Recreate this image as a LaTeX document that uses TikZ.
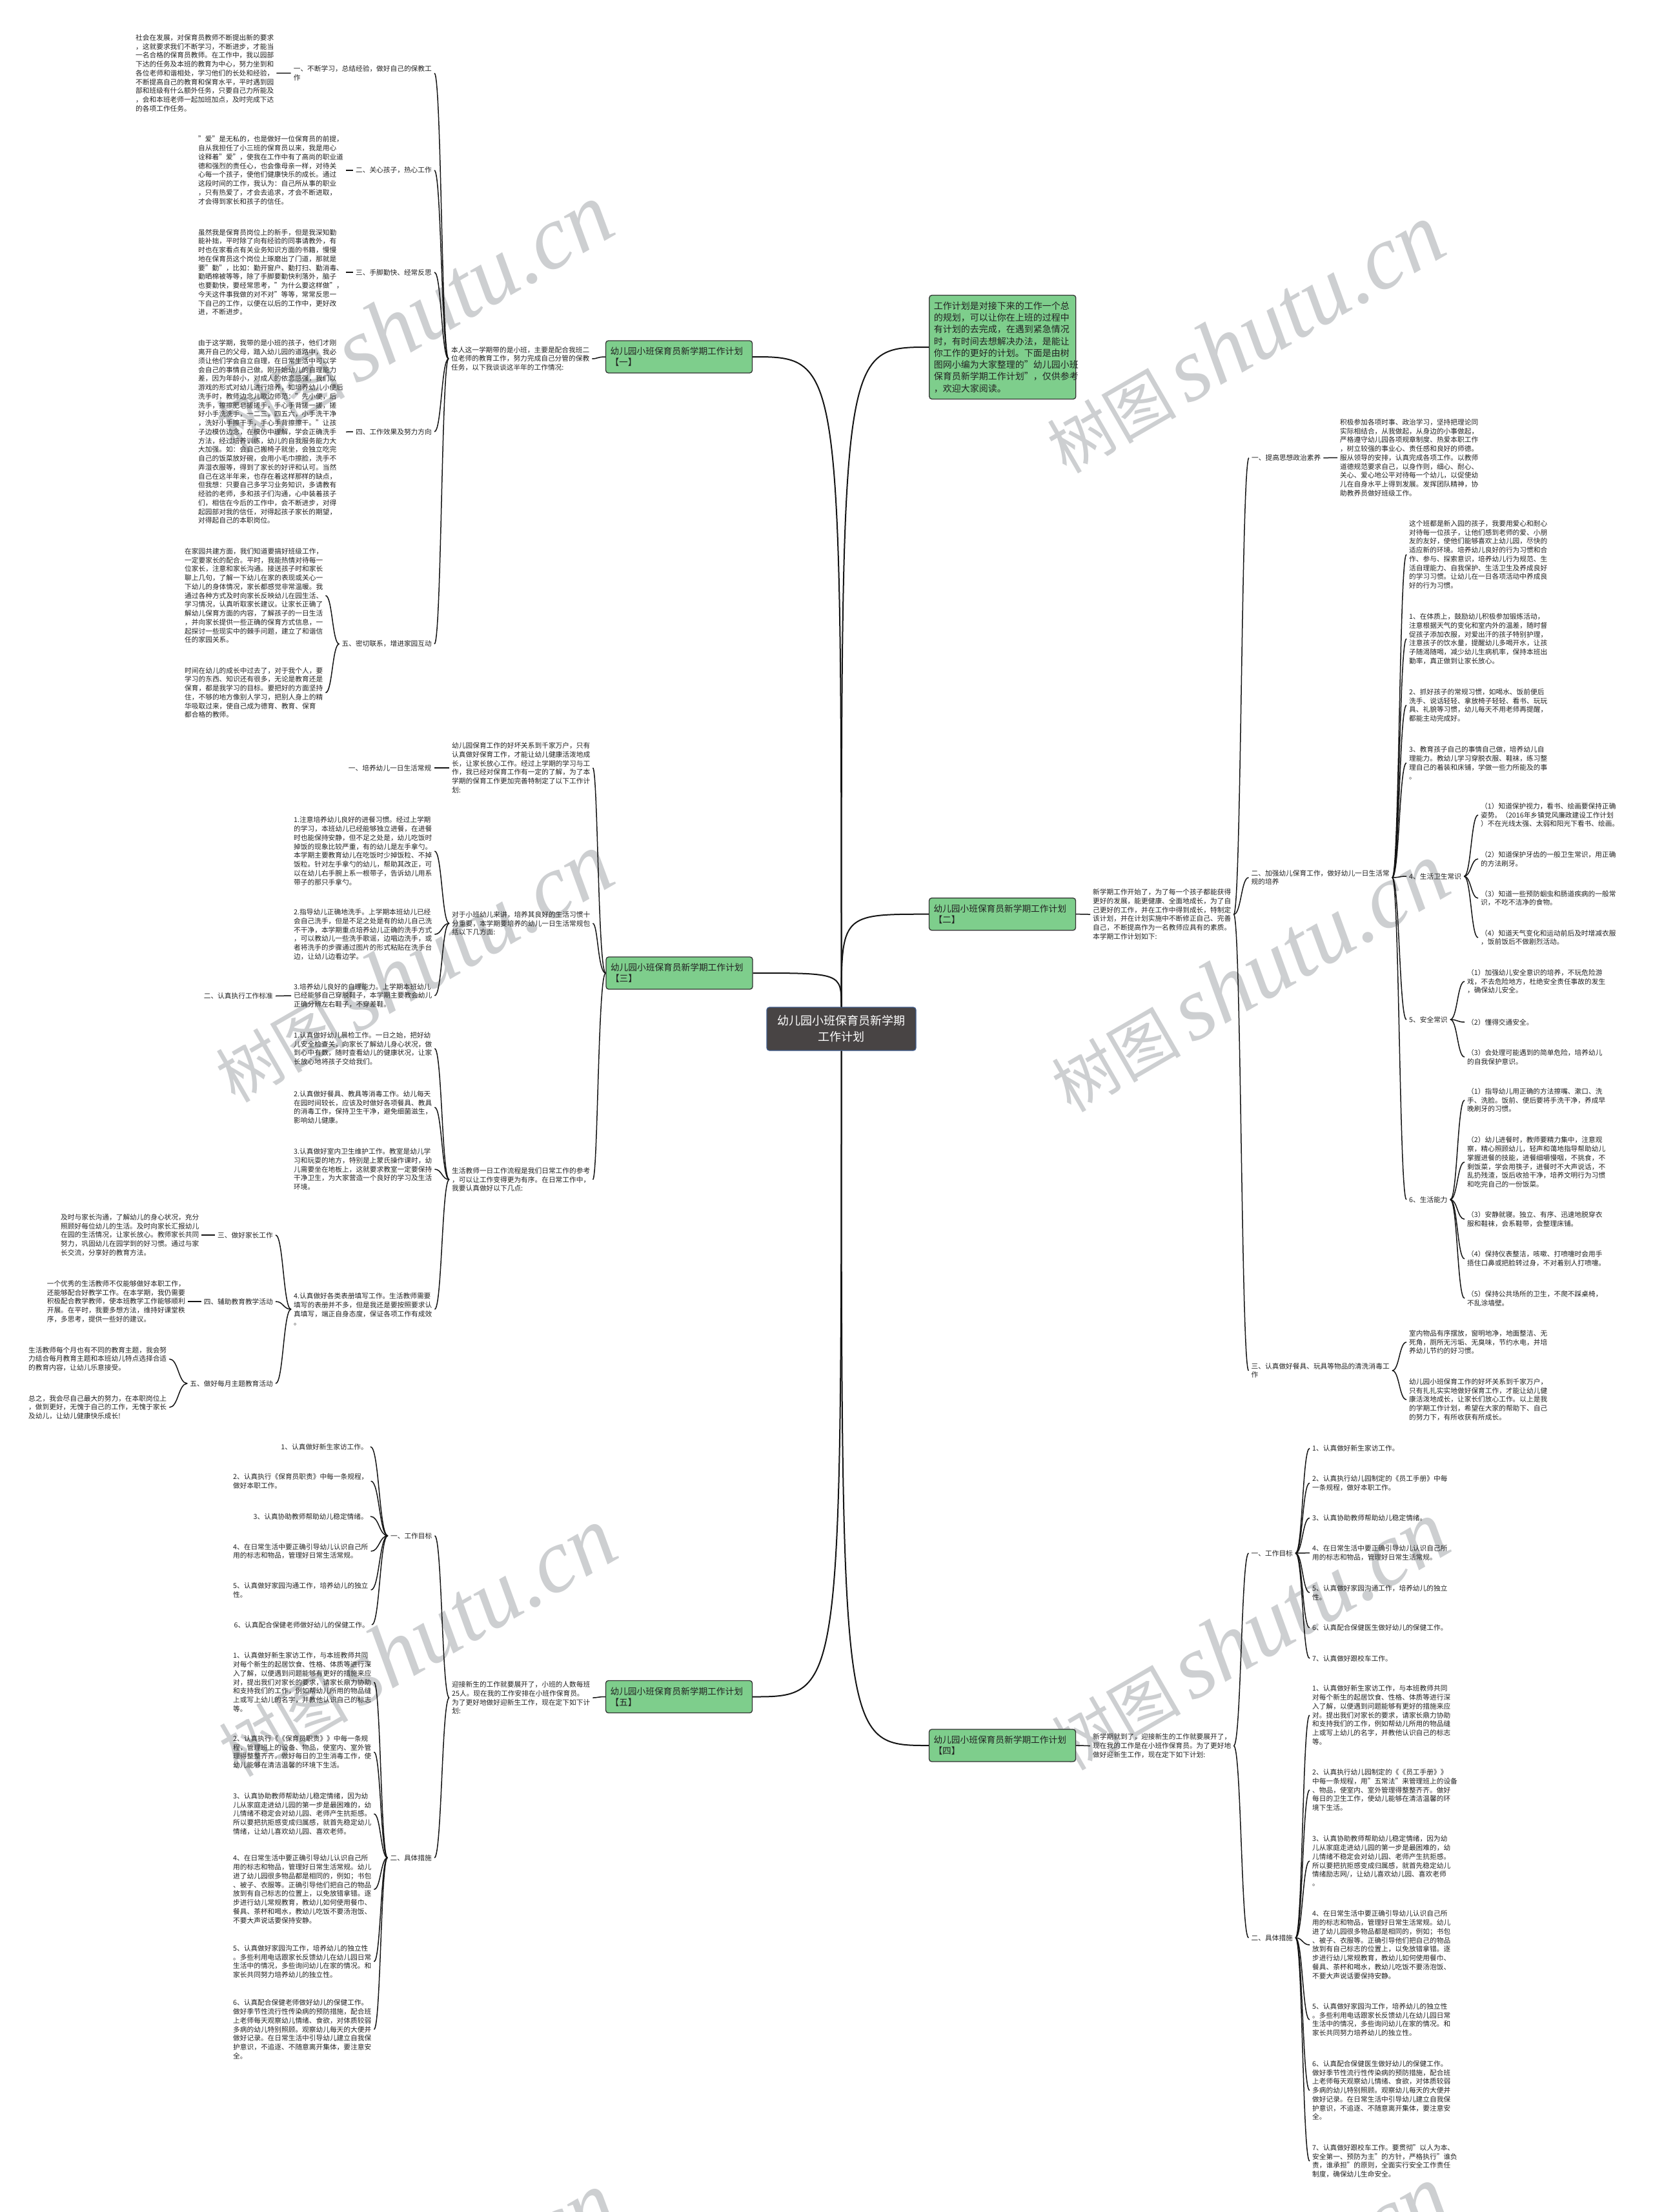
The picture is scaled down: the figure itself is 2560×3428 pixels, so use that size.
\documentclass[tikz,border=0pt]{standalone}
\usepackage{fontspec}
\setmainfont{Noto Sans CJK SC}
\newfontfamily\wmlatin{Liberation Serif}
\usetikzlibrary{calc}
\definecolor{nodegreen}{RGB}{126,206,140}
\definecolor{centerfill}{RGB}{72,68,68}
\definecolor{centerborder}{RGB}{60,90,140}
\definecolor{wmgray}{RGB}{205,207,209}
\definecolor{txtcol}{RGB}{34,34,34}
\definecolor{linecol}{RGB}{20,20,20}
\newcommand\mmlink[3][]{\draw[conn,#1] let \p1=(#2), \p2=(#3) in (\p1) .. controls ({0.5*\x1+0.5*\x2},\y1) and ({0.5*\x1+0.5*\x2},\y2) .. (\p2);}
\begin{document}
\begin{tikzpicture}[x=1pt,y=-1pt,
  txt/.style={font=\fontsize{10.7}{13.75}\selectfont, align=left, inner sep=0pt, text=txtcol},
  bnode/.style={draw=black!80, line width=1.3pt, fill=nodegreen, rounded corners=4pt, minimum width=227pt, minimum height=50pt, text width=213pt, inner xsep=7pt, inner ysep=4pt, align=left, font=\fontsize{13.7}{17.3}\selectfont, text=txtcol},
  intro/.style={draw=black!80, line width=1.3pt, fill=nodegreen, rounded corners=4pt, minimum width=227pt, minimum height=161pt, text width=213pt, inner xsep=7pt, inner ysep=5pt, align=left, font=\fontsize{14}{18.3}\selectfont, text=txtcol},
  cnode/.style={draw=centerborder, line width=1.2pt, fill=centerfill, rounded corners=4pt, minimum width=231pt, minimum height=67pt, align=center, font=\fontsize{18}{25}\selectfont, text=white},
  wm/.style={font=\fontsize{100}{100}\selectfont, text=wmgray, inner sep=0pt, rotate=30},
  conn/.style={draw=linecol, line width=1.5pt, shorten <=4pt, shorten >=4pt},
  mainconn/.style={draw=linecol, line width=2pt}]
\fill[white] (0,0) rectangle (2560,3428);
\useasboundingbox (0,0) rectangle (2560,3428);

% watermarks
\node[wm] (wm1) at (640,494) {树图\,{\wmlatin\itshape\fontsize{140}{140}\selectfont shutu.cn}};
\node[wm] (wm2) at (1928,525) {树图\,{\wmlatin\itshape\fontsize{140}{140}\selectfont shutu.cn}};
\node[wm] (wm3) at (640,1500) {树图\,{\wmlatin\itshape\fontsize{140}{140}\selectfont shutu.cn}};
\node[wm] (wm4) at (1935,1515) {树图\,{\wmlatin\itshape\fontsize{140}{140}\selectfont shutu.cn}};
\node[wm] (wm5) at (645,2545) {树图\,{\wmlatin\itshape\fontsize{140}{140}\selectfont shutu.cn}};
\node[wm] (wm6) at (1935,2535) {树图\,{\wmlatin\itshape\fontsize{140}{140}\selectfont shutu.cn}};
\node[wm] (wm7) at (645,3575) {树图\,{\wmlatin\itshape\fontsize{140}{140}\selectfont shutu.cn}};
\node[wm] (wm8) at (1935,3565) {树图\,{\wmlatin\itshape\fontsize{140}{140}\selectfont shutu.cn}};

% center and main branches
\node[cnode] (cen) at (1303.5,1594.5) {幼儿园小班保育员新学期\\工作计划};
\node[intro] (intro) at (1553.3,538) {工作计划是对接下来的工作一个总\\的规划，可以让你在上班的过程中\\有计划的去完成，在遇到紧急情况\\时，有时间去想解决办法，是能让\\你工作的更好的计划。下面是由树\\图网小编为大家整理的"幼儿园小班\\保育员新学期工作计划"，仅供参考\\，欢迎大家阅读。};
\node[bnode] (b1) at (1052,553) {幼儿园小班保育员新学期工作计划\\【一】};
\node[bnode] (b2) at (1553,1416.7) {幼儿园小班保育员新学期工作计划\\【二】};
\node[bnode] (b3) at (1052.5,1508) {幼儿园小班保育员新学期工作计划\\【三】};
\node[bnode] (b4) at (1553,2705) {幼儿园小班保育员新学期工作计划\\【四】};
\node[bnode] (b5) at (1052,2629.5) {幼儿园小班保育员新学期工作计划\\【五】};

% ---------- branch 1 ----------
\node[txt, anchor=west] (t1) at (699,556) {本人这一学期带的是小班，主要是配合我班二\\位老师的教育工作，努力完成自己分管的保教\\任务，以下我谈谈这半年的工作情况:};
\node[txt, anchor=east] (l11) at (669,113.5) {一、不断学习，总结经验，做好自己的保教工\\作};
\node[txt, anchor=east] (l12) at (669,264) {二、关心孩子，热心工作};
\node[txt, anchor=east] (l13) at (669,422) {三、手脚勤快、经常反思};
\node[txt, anchor=east] (l14) at (669,669) {四、工作效果及努力方向};
\node[txt, anchor=east] (l15) at (669,998) {五、密切联系，增进家园互动};
\node[txt, anchor=west] (x11) at (210,113.3) {社会在发展，对保育员教师不断提出新的要求\\，这就要求我们不断学习，不断进步，才能当\\一名合格的保育员教师。在工作中，我以园部\\下达的任务及本班的教育为中心，努力坐到和\\各位老师和谐相处，学习他们的长处和经验，\\不断提高自己的教育和保育水平，平时遇到园\\部和班级有什么额外任务，只要自己力所能及\\，会和本班老师一起加班加点，及时完成下达\\的各项工作任务。};
\node[txt, anchor=west] (x12) at (307,264) {"爱"是无私的，也是做好一位保育员的前提，\\自从我担任了小三班的保育员以来，我是用心\\诠释着"爱"，使我在工作中有了高尚的职业道\\德和强烈的责任心，也会像母亲一样，对待关\\心每一个孩子，使他们健康快乐的成长。通过\\这段时间的工作，我认为：自己所从事的职业\\，只有热爱了，才会去追求，才会不断进取，\\才会得到家长和孩子的信任。};
\node[txt, anchor=west] (x13) at (307,422) {虽然我是保育员岗位上的新手，但是我深知勤\\能补拙，平时除了向有经验的同事请教外，有\\时也在家看点有关业务知识方面的书籍，慢慢\\地在保育员这个岗位上琢磨出了门道，那就是\\要"勤"，比如：勤开窗户、勤打扫、勤消毒、\\勤晒棉被等等，除了手脚要勤快利落外，脑子\\也要勤快，要经常思考，"为什么要这样做"，\\今天这件事我做的对不对"等等，常常反思一\\下自己的工作，以便在以后的工作中，更好改\\进，不断进步。};
\node[txt, anchor=west] (x14) at (307,669.3) {由于这学期，我带的是小班的孩子，他们才刚\\离开自己的父母，踏入幼儿园的道路中，我必\\须让他们学会自立自理，在日常生活中可以学\\会自己的事情自己做。刚开始幼儿的自理能力\\差，因为年龄小，对成人的依恋感强，我们以\\游戏的形式对幼儿进行培养，如培养幼儿小便后\\洗手时，教师边念儿歌边师范："先小便，后\\洗手，擦擦肥皂搓搓手，手心手背搓一搓，搓\\好小手洗洗手，一二三，四五六，小手洗干净\\，洗好小手擦干手，手心手背擦擦干。"让孩\\子边模仿边念，在模仿中理解，学会正确洗手\\方法，经过培养训练，幼儿的自我服务能力大\\大加强。如：会自己搬椅子就坐，会独立吃完\\自己的饭菜放好碗，会用小毛巾擦脸，洗手不\\弄湿衣服等，得到了家长的好评和认可。当然\\自己在这半年来，也存在着这样那样的缺点，\\但我想：只要自己多学习业务知识，多请教有\\经验的老师，多和孩子们沟通，心中装着孩子\\们，相信在今后的工作中，会不断进步，对得\\起园部对我的信任，对得起孩子家长的期望，\\对得起自己的本职岗位。};
\node[txt, anchor=west] (x15a) at (286,923) {在家园共建方面，我们知道要搞好班级工作，\\一定要家长的配合。平时，我能热情对待每一\\位家长，注意和家长沟通。接送孩子时和家长\\聊上几句，了解一下幼儿在家的表现或关心一\\下幼儿的身体情况，家长都感觉非常温暖。我\\通过各种方式及时向家长反映幼儿在园生活、\\学习情况，认真听取家长建议。让家长正确了\\解幼儿保育方面的内容，了解孩子的一日生活\\，并向家长提供一些正确的保育方式信息，一\\起探讨一些现实中的棘手问题，建立了和谐信\\任的家园关系。};
\node[txt, anchor=west] (x15b) at (286,1073.5) {时间在幼儿的成长中过去了，对于我个人，要\\学习的东西、知识还有很多，无论是教育还是\\保育，都是我学习的目标。要把好的方面坚持\\住，不够的地方像别人学习，把别人身上的精\\华吸取过来，使自己成为德育、教育、保育\\都合格的教师。};

% ---------- branch 3 ----------
\node[txt, anchor=west] (t31) at (700,1190) {幼儿园保育工作的好坏关系到千家万户，只有\\认真做好保育工作，才能让幼儿健康活泼地成\\长，让家长放心工作。经过上学期的学习与工\\作，我已经对保育工作有一定的了解，为了本\\学期的保育工作更加完善特制定了以下工作计\\划:};
\node[txt, anchor=west] (t32) at (700,1431) {对于小班幼儿来讲，培养其良好的生活习惯十\\分重要，本学期要培养的幼儿一日生活常规包\\括以下几方面:};
\node[txt, anchor=west] (t33) at (700,1828) {生活教师一日工作流程是我们日常工作的参考\\，可以让工作变得更为有序。在日常工作中，\\我要认真做好以下几点:};
\node[txt, anchor=east] (l31) at (668.5,1190) {一、培养幼儿一日生活常规};
\node[txt, anchor=west] (i321) at (455,1319) {1.注意培养幼儿良好的进餐习惯。经过上学期\\的学习，本班幼儿已经能够独立进餐，在进餐\\时也能保持安静，但不足之处是，幼儿吃饭时\\掉饭的现象比较严重，有的幼儿是左手拿勺。\\本学期主要教育幼儿在吃饭时少掉饭粒、不掉\\饭粒。针对左手拿勺的幼儿，帮助其改正，可\\以在幼儿右手腕上系一根带子，告诉幼儿用系\\带子的那只手拿勺。};
\node[txt, anchor=west] (i322) at (455,1448) {2.指导幼儿正确地洗手。上学期本班幼儿已经\\会自己洗手，但是不足之处是有的幼儿自己洗\\不干净，本学期重点培养幼儿正确的洗手方式\\，可以教幼儿一些洗手歌谣，边唱边洗手，或\\者将洗手的步骤通过图片的形式粘贴在洗手台\\边，让幼儿边看边学。};
\node[txt, anchor=west] (i323) at (455,1543) {3.培养幼儿良好的自理能力。上学期本班幼儿\\已经能够自己穿脱鞋子，本学期主要教会幼儿\\正确分辨左右鞋子，不穿差鞋。};
\node[txt, anchor=east] (l32) at (423,1543.5) {二、认真执行工作标准};
\node[txt, anchor=west] (i331) at (455,1625) {1.认真做好幼儿晨检工作。一日之始，把好幼\\儿安全检查关，向家长了解幼儿身心状况，做\\到心中有数，随时查看幼儿的健康状况，让家\\长放心地将孩子交给我们。};
\node[txt, anchor=west] (i332) at (455,1716) {2.认真做好餐具、教具等消毒工作。幼儿每天\\在园时间较长，应该及时做好各项餐具、教具\\的消毒工作，保持卫生干净，避免细菌滋生，\\影响幼儿健康。};
\node[txt, anchor=west] (i333) at (455,1812) {3.认真做好室内卫生维护工作。教室是幼儿学\\习和玩耍的地方，特别是上蒙氏操作课时，幼\\儿需要坐在地板上，这就要求教室一定要保持\\干净卫生，为大家营造一个良好的学习及生活\\环境。};
\node[txt, anchor=west] (i334) at (455,2029) {4.认真做好各类表册填写工作。生活教师需要\\填写的表册并不多，但是我还是要按照要求认\\真填写，端正自身态度，保证各项工作有成效\\。};
\node[txt, anchor=east] (l33) at (423,1914) {三、做好家长工作};
\node[txt, anchor=east] (l34) at (423,2017) {四、辅助教育教学活动};
\node[txt, anchor=east] (l35) at (423,2144) {五、做好每月主题教育活动};
\node[txt, anchor=west] (x33) at (94,1914) {及时与家长沟通，了解幼儿的身心状况，充分\\照顾好每位幼儿的生活。及时向家长汇报幼儿\\在园的生活情况，让家长放心。教师家长共同\\努力，巩固幼儿在园学到的好习惯。通过与家\\长交流，分享好的教育方法。};
\node[txt, anchor=west] (x34) at (72.6,2017) {一个优秀的生活教师不仅能够做好本职工作，\\还能够配合好教学工作。在本学期，我仍需要\\积极配合教学教师，使本班教学工作能够顺利\\开展。在平时，我要多想方法，维持好课堂秩\\序，多思考，提供一些好的建议。};
\node[txt, anchor=west] (x35a) at (44,2106) {生活教师每个月也有不同的教育主题，我会努\\力结合每月教育主题和本班幼儿特点选择合适\\的教育内容，让幼儿乐意接受。};
\node[txt, anchor=west] (x35b) at (44,2181) {总之，我会尽自己最大的努力，在本职岗位上\\，做到更好，无愧于自己的工作，无愧于家长\\及幼儿，让幼儿健康快乐成长!};

% ---------- branch 5 ----------
\node[txt, anchor=west] (t5) at (700,2631) {迎接新生的工作就要展开了，小班的人数每班\\25人。现在我的工作安排在小班作保育员。\\为了更好地做好迎新生工作，现在定下如下计\\划:};
\node[txt, anchor=east] (l51) at (669.5,2380) {一、工作目标};
\node[txt, anchor=east] (l52) at (669,2879) {二、具体措施};
\node[txt, anchor=east] (i511) at (570,2242) {1、认真做好新生家访工作。};
\node[txt, anchor=west] (i512) at (361,2295.3) {2、认真执行《保育员职责》中每一条规程，\\做好本职工作。};
\node[txt, anchor=east] (i513) at (570,2350) {3、认真协助教师帮助幼儿稳定情绪。};
\node[txt, anchor=west] (i514) at (361,2404) {4、在日常生活中要正确引导幼儿认识自己所\\用的标志和物品，管理好日常生活常规。};
\node[txt, anchor=west] (i515) at (361,2464) {5、认真做好家园沟通工作，培养幼儿的独立\\性。};
\node[txt, anchor=east] (i516) at (572,2518) {6、认真配合保健老师做好幼儿的保健工作。};
\node[txt, anchor=west] (i521) at (361,2607) {1、认真做好新生家访工作，与本班教师共同\\对每个新生的起居饮食、性格、体质等进行深\\入了解，以便遇到问题能够有更好的措施来应\\对，提出我们对家长的要求，请家长鼎力协助\\和支持我们的工作，例如帮幼儿所用的物品缝\\上或写上幼儿的名字，并教他认识自己的标志\\等。};
\node[txt, anchor=west] (i522) at (361,2715) {2、认真执行《《保育员职责》》中每一条规\\程，管理班上的设备、物品，使室内、室外管\\理得整整齐齐。做好每日的卫生消毒工作，使\\幼儿能够在清洁温馨的环境下生活。};
\node[txt, anchor=west] (i523) at (361,2811) {3、认真协助教师帮助幼儿稳定情绪，因为幼\\儿从家庭走进幼儿园的第一步是最困难的，幼\\儿情绪不稳定会对幼儿园、老师产生抗拒感。\\所以要把抗拒感变成归属感，就首先稳定幼儿\\情绪，让幼儿喜欢幼儿园、喜欢老师。};
\node[txt, anchor=west] (i524) at (361,2928) {4、在日常生活中要正确引导幼儿认识自己所\\用的标志和物品，管理好日常生活常规。幼儿\\进了幼儿园很多物品都是相同的，例如；书包\\、被子、衣服等。正确引导他们把自己的物品\\放到有自己标志的位置上，以免放错拿错。逐\\步进行幼儿常规教育，教幼儿如何使用餐巾、\\餐具、茶杯和喝水，教幼儿吃饭不要汤泡饭、\\不要大声说话要保持安静。};
\node[txt, anchor=west] (i525) at (361,3040) {5、认真做好家园沟工作，培养幼儿的独立性\\。多些利用电话跟家长反馈幼儿在幼儿园日常\\生活中的情况，多些询问幼儿在家的情况。和\\家长共同努力培养幼儿的独立性。};
\node[txt, anchor=west] (i526) at (361,3145) {6、认真配合保健老师做好幼儿的保健工作。\\做好季节性流行性传染病的预防措施，配合班\\上老师每天观察幼儿情绪、食欲，对体质较弱\\多病的幼儿特别照顾。观察幼儿每天的大便并\\做好记录。在日常生活中引导幼儿建立自我保\\护意识，不追逐、不随意离开集体，要注意安\\全。};

% ---------- branch 2 ----------
\node[txt, anchor=west] (t2) at (1693,1417) {新学期工作开始了，为了每一个孩子都能获得\\更好的发展，能更健康、全面地成长，为了自\\己更好的工作，并在工作中得到成长，特制定\\该计划，并在计划实施中不断修正自己、完善\\自己，不断提高作为一名教师应具有的素质。\\本学期工作计划如下:};
\node[txt, anchor=west] (l21) at (1939,709.6) {一、提高思想政治素养};
\node[txt, anchor=west] (x21) at (2076,709.3) {积极参加各项时事、政治学习，坚持把理论同\\实际相结合，从我做起，从身边的小事做起，\\严格遵守幼儿园各项规章制度、热爱本职工作\\，树立较强的事业心、责任感和良好的师德。\\服从领导的安排，认真完成各项工作。以教师\\道德规范要求自己，以身作则，细心、耐心、\\关心、爱心地公平对待每一个幼儿，以促使幼\\儿在自身水平上得到发展。发挥团队精神，协\\助教养员做好班级工作。};
\node[txt, anchor=west] (l22) at (1938.5,1360) {二、加强幼儿保育工作，做好幼儿一日生活常\\规的培养};
\node[txt, anchor=west] (l23) at (1938.5,2124) {三、认真做好餐具、玩具等物品的清洗消毒工\\作};
\node[txt, anchor=west] (x220) at (2183,859.4) {这个班都是新入园的孩子，我要用爱心和耐心\\对待每一位孩子，让他们感到老师的爱、小朋\\友的友好，使他们能够喜欢上幼儿园，尽快的\\适应新的环境。培养幼儿良好的行为习惯和合\\作、参与、探索意识，培养幼儿行为规范、生\\活自理能力、自我保护、生活卫生及养成良好\\的学习习惯。让幼儿在一日各项活动中养成良\\好的行为习惯。};
\node[txt, anchor=west] (x221) at (2183,990) {1、在体质上，鼓励幼儿积极参加锻炼活动，\\注意根据天气的变化和室内外的温差，随时督\\促孩子添加衣服，对爱出汗的孩子特别护理，\\注意孩子的饮水量，提醒幼儿多喝开水，让孩\\子随渴随喝，减少幼儿生病机率，保持本班出\\勤率，真正做到让家长放心。};
\node[txt, anchor=west] (x222) at (2183,1093) {2、抓好孩子的常规习惯，如喝水、饭前便后\\洗手、说话轻轻、拿放椅子轻轻、看书、玩玩\\具、礼貌等习惯，幼儿每天不用老师再提醒，\\都能主动完成好。};
\node[txt, anchor=west] (x223) at (2183,1182.4) {3、教育孩子自己的事情自己做，培养幼儿自\\理能力。教幼儿学习穿脱衣服、鞋袜，练习整\\理自己的着装和床铺，学做一些力所能及的事\\。};
\node[txt, anchor=west] (l224) at (2183,1358) {4、生活卫生常识};
\node[txt, anchor=west] (l225) at (2183,1580) {5、安全常识};
\node[txt, anchor=west] (l226) at (2183,1859) {6、生活能力};
\node[txt, anchor=west] (s41) at (2294,1263) {（1）知道保护视力，看书、绘画要保持正确\\姿势。（2016年乡镇党风廉政建设工作计划\\）不在光线太强、太弱和阳光下看书、绘画。};
\node[txt, anchor=west] (s42) at (2294,1331) {（2）知道保护牙齿的一般卫生常识，用正确\\的方法刷牙。};
\node[txt, anchor=west] (s43) at (2294,1392) {（3）知道一些预防蛔虫和肠道疾病的一般常\\识，不吃不洁净的食物。};
\node[txt, anchor=west] (s44) at (2294,1453) {（4）知道天气变化和运动前后及时增减衣服\\，饭前饭后不做剧烈活动。};
\node[txt, anchor=west] (s51) at (2273,1521) {（1）加强幼儿安全意识的培养，不玩危险游\\戏，不去危险地方，杜绝安全责任事故的发生\\，确保幼儿安全。};
\node[txt, anchor=west] (s52) at (2273,1584) {（2）懂得交通安全。};
\node[txt, anchor=west] (s53) at (2273,1638) {（3）会处理可能遇到的简单危险，培养幼儿\\的自我保护意识。};
\node[txt, anchor=west] (s61) at (2273,1705) {（1）指导幼儿用正确的方法擦嘴、漱口、洗\\手、洗脸。饭前、便后要将手洗干净，养成早\\晚刷牙的习惯。};
\node[txt, anchor=west] (s62) at (2273,1801) {（2）幼儿进餐时，教师要精力集中，注意观\\察，精心照顾幼儿，轻声和蔼地指导帮助幼儿\\掌握进餐的技能，进餐细嚼慢咽，不挑食，不\\剩饭菜，学会用筷子，进餐时不大声说话，不\\乱扔残渣，饭后收拾干净，培养文明行为习惯\\和吃完自己的一份饭菜。};
\node[txt, anchor=west] (s63) at (2273,1889.4) {（3）安静就寝。独立、有序、迅速地脱穿衣\\服和鞋袜，会系鞋带，会整理床铺。};
\node[txt, anchor=west] (s64) at (2273,1950.8) {（4）保持仪表整洁，咳嗽、打喷嚏时会用手\\捂住口鼻或把脸转过身，不对着别人打喷嚏。};
\node[txt, anchor=west] (s65) at (2273,2012) {（5）保持公共场所的卫生，不爬不踩桌椅，\\不乱涂墙壁。};
\node[txt, anchor=west] (x231) at (2183,2080) {室内物品有序摆放，窗明地净，地面整洁、无\\死角，厕所无污垢、无臭味，节约水电，并培\\养幼儿节约的好习惯。};
\node[txt, anchor=west] (x232) at (2183,2169) {幼儿园小班保育工作的好坏关系到千家万户，\\只有扎扎实实地做好保育工作，才能让幼儿健\\康活泼地成长，让家长们放心工作。以上是我\\的学期工作计划，希望在大家的帮助下、自己\\的努力下，有所收获有所成长。};

% ---------- branch 4 ----------
\node[txt, anchor=west] (t4) at (1693,2705.5) {新学期就到了，迎接新生的工作就要展开了，\\现在我的工作是在小班作保育员。为了更好地\\做好迎新生工作，现在定下如下计划:};
\node[txt, anchor=west] (l41) at (1938.5,2407) {一、工作目标};
\node[txt, anchor=west] (l42) at (1938.5,3003) {二、具体措施};
\node[txt, anchor=west] (i411) at (2033,2244.5) {1、认真做好新生家访工作。};
\node[txt, anchor=west] (i412) at (2033,2298.3) {2、认真执行幼儿园制定的《员工手册》中每\\一条规程，做好本职工作。};
\node[txt, anchor=west] (i413) at (2033,2352.5) {3、认真协助教师帮助幼儿稳定情绪。};
\node[txt, anchor=west] (i414) at (2033,2406.6) {4、在日常生活中要正确引导幼儿认识自己所\\用的标志和物品，管理好日常生活常规。};
\node[txt, anchor=west] (i415) at (2033,2468) {5、认真做好家园沟通工作，培养幼儿的独立\\性。};
\node[txt, anchor=west] (i416) at (2033,2522.6) {6、认真配合保健医生做好幼儿的保健工作。};
\node[txt, anchor=west] (i417) at (2033,2570) {7、认真做好跟校车工作。};
\node[txt, anchor=west] (i421) at (2033,2658) {1、认真做好新生家访工作，与本班教师共同\\对每个新生的起居饮食、性格、体质等进行深\\入了解，以便遇到问题能够有更好的措施来应\\对。提出我们对家长的要求，请家长鼎力协助\\和支持我们的工作，例如帮幼儿所用的物品缝\\上或写上幼儿的名字，并教他认识自己的标志\\等。};
\node[txt, anchor=west] (i422) at (2033,2774) {2、认真执行幼儿园制定的《《员工手册》》\\中每一条规程，用"五常法"来管理班上的设备\\、物品，使室内、室外管理得整整齐齐。做好\\每日的卫生工作，使幼儿能够在清洁温馨的环\\境下生活。};
\node[txt, anchor=west] (i423) at (2033,2884) {3、认真协助教师帮助幼儿稳定情绪，因为幼\\儿从家庭走进幼儿园的第一步是最困难的，幼\\儿情绪不稳定会对幼儿园、老师产生抗拒感。\\所以要把抗拒感变成归属感，就首先稳定幼儿\\情绪励志网/，让幼儿喜欢幼儿园、喜欢老师\\。};
\node[txt, anchor=west] (i424) at (2033,3014) {4、在日常生活中要正确引导幼儿认识自己所\\用的标志和物品，管理好日常生活常规。幼儿\\进了幼儿园很多物品都是相同的，例如；书包\\、被子、衣服等。正确引导他们把自己的物品\\放到有自己标志的位置上，以免放错拿错。逐\\步进行幼儿常规教育，教幼儿如何使用餐巾、\\餐具、茶杯和喝水，教幼儿吃饭不要汤泡饭、\\不要大声说话要保持安静。};
\node[txt, anchor=west] (i425) at (2033,3130) {5、认真做好家园沟工作，培养幼儿的独立性\\。多些利用电话跟家长反馈幼儿在幼儿园日常\\生活中的情况，多些询问幼儿在家的情况。和\\家长共同努力培养幼儿的独立性。};
\node[txt, anchor=west] (i426) at (2033,3239.5) {6、认真配合保健医生做好幼儿的保健工作。\\做好季节性流行性传染病的预防措施，配合班\\上老师每天观察幼儿情绪、食欲，对体质较弱\\多病的幼儿特别照顾。观察幼儿每天的大便并\\做好记录。在日常生活中引导幼儿建立自我保\\护意识，不追逐、不随意离开集体，要注意安\\全。};
\node[txt, anchor=west] (i427) at (2033,3349) {7、认真做好跟校车工作。要贯彻"以人为本、\\安全第一、预防为主"的方针，严格执行"谁负\\责，谁承担"的原则，全面实行安全工作责任\\制度，确保幼儿生命安全。};

% ---------- connectors: center ----------
\draw[mainconn] (cen.north) .. controls (cen.north |- b1.east) and (cen.north |- b1.east) .. (b1.east);
\draw[mainconn] (cen.north) .. controls (cen.north |- intro.west) and (cen.north |- intro.west) .. (intro.west);
\draw[mainconn] (cen.north) .. controls (cen.north |- b2.west) and (cen.north |- b2.west) .. (b2.west);
\draw[mainconn] (cen.north) .. controls (cen.north |- b3.east) and (cen.north |- b3.east) .. (b3.east);
\draw[mainconn] (cen.south) .. controls (cen.south |- b4.west) and (cen.south |- b4.west) .. (b4.west);
\draw[mainconn] (cen.south) .. controls (cen.south |- b5.east) and (cen.south |- b5.east) .. (b5.east);

% branch 1
\mmlink[shorten <=0pt]{b1.west}{t1.east}
\foreach \c in {l11,l12,l13,l14,l15} {\mmlink{t1.west}{\c.east}}
\mmlink{l11.west}{x11.east}
\mmlink{l12.west}{x12.east}
\mmlink{l13.west}{x13.east}
\mmlink{l14.west}{x14.east}
\mmlink{l15.west}{x15a.east}
\mmlink{l15.west}{x15b.east}

% branch 3
\foreach \c in {t31,t32,t33} {\mmlink[shorten <=0pt]{b3.west}{\c.east}}
\mmlink{t31.west}{l31.east}
\foreach \c in {i321,i322,i323} {\mmlink{t32.west}{\c.east}}
\mmlink{i323.west}{l32.east}
\foreach \c in {i331,i332,i333,i334} {\mmlink{t33.west}{\c.east}}
\foreach \c in {l33,l34,l35} {\mmlink{i334.west}{\c.east}}
\mmlink{l33.west}{x33.east}
\mmlink{l34.west}{x34.east}
\mmlink{l35.west}{x35a.east}
\mmlink{l35.west}{x35b.east}

% branch 5
\mmlink[shorten <=0pt]{b5.west}{t5.east}
\mmlink{t5.west}{l51.east}
\mmlink{t5.west}{l52.east}
\foreach \c in {i511,i512,i513,i514,i515,i516} {\mmlink{l51.west}{\c.east}}
\foreach \c in {i521,i522,i523,i524,i525,i526} {\mmlink{l52.west}{\c.east}}

% branch 2
\mmlink[shorten <=0pt]{b2.east}{t2.west}
\foreach \c in {l21,l22,l23} {\mmlink{t2.east}{\c.west}}
\mmlink{l21.east}{x21.west}
\foreach \c in {x220,x221,x222,x223,l224,l225,l226} {\mmlink{l22.east}{\c.west}}
\foreach \c in {s41,s42,s43,s44} {\mmlink{l224.east}{\c.west}}
\foreach \c in {s51,s52,s53} {\mmlink{l225.east}{\c.west}}
\foreach \c in {s61,s62,s63,s64,s65} {\mmlink{l226.east}{\c.west}}
\mmlink{l23.east}{x231.west}
\mmlink{l23.east}{x232.west}

% branch 4
\mmlink[shorten <=0pt]{b4.east}{t4.west}
\mmlink{t4.east}{l41.west}
\mmlink{t4.east}{l42.west}
\foreach \c in {i411,i412,i413,i414,i415,i416,i417} {\mmlink{l41.east}{\c.west}}
\foreach \c in {i421,i422,i423,i424,i425,i426,i427} {\mmlink{l42.east}{\c.west}}
\end{tikzpicture}
\end{document}
